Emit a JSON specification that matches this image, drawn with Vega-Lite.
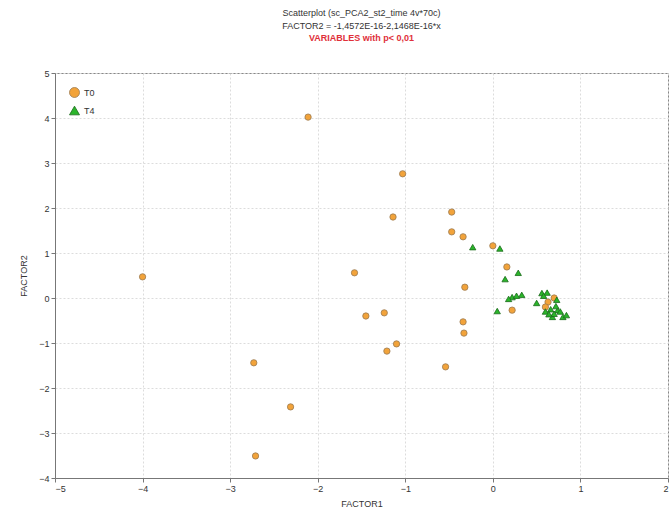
{
  "$schema": "https://vega.github.io/schema/vega-lite/v6.json",
  "width": 613,
  "height": 405,
  "autosize": {"type": "none"},
  "padding": {"left": 55, "top": 73, "right": 4, "bottom": 48},
  "background": "white",
  "config": {
    "font": "Liberation Sans",
    "view": {"stroke": "#888888", "strokeWidth": 1},
    "axis": {
      "labelFontSize": 9,
      "labelColor": "#333333",
      "titleFontSize": 9,
      "titleFontWeight": "normal",
      "titleColor": "#333333",
      "grid": true,
      "gridColor": "#dcdcdc",
      "gridDash": [2, 2],
      "domainColor": "#777777",
      "tickColor": "#777777",
      "tickSize": 4
    }
  },
  "title": {
    "text": ["Scatterplot (sc_PCA2_st2_time 4v*70c)", "FACTOR2 = -1,4572E-16-2,1468E-16*x"],
    "subtitle": "VARIABLES with p< 0,01",
    "fontSize": 9,
    "fontWeight": "normal",
    "color": "#333333",
    "subtitleFontSize": 9,
    "subtitleFontWeight": "bold",
    "subtitleColor": "#e0303a",
    "subtitlePadding": 3,
    "lineHeight": 13,
    "anchor": "middle",
    "offset": 26
  },
  "datasets": {
    "pts": [
      {"f1": -2.11, "f2": 4.02, "g": "T0"},
      {"f1": -4.0, "f2": 0.47, "g": "T0"},
      {"f1": -1.03, "f2": 2.76, "g": "T0"},
      {"f1": -1.14, "f2": 1.8, "g": "T0"},
      {"f1": -0.47, "f2": 1.91, "g": "T0"},
      {"f1": -0.47, "f2": 1.47, "g": "T0"},
      {"f1": -0.34, "f2": 1.36, "g": "T0"},
      {"f1": 0.0, "f2": 1.16, "g": "T0"},
      {"f1": -1.58, "f2": 0.56, "g": "T0"},
      {"f1": -0.32, "f2": 0.24, "g": "T0"},
      {"f1": -1.45, "f2": -0.4, "g": "T0"},
      {"f1": -1.24, "f2": -0.33, "g": "T0"},
      {"f1": -0.34, "f2": -0.53, "g": "T0"},
      {"f1": -0.33, "f2": -0.78, "g": "T0"},
      {"f1": -1.1, "f2": -1.02, "g": "T0"},
      {"f1": -1.21, "f2": -1.18, "g": "T0"},
      {"f1": -0.54, "f2": -1.53, "g": "T0"},
      {"f1": -2.73, "f2": -1.44, "g": "T0"},
      {"f1": -2.31, "f2": -2.42, "g": "T0"},
      {"f1": -2.71, "f2": -3.51, "g": "T0"},
      {"f1": 0.16, "f2": 0.69, "g": "T0"},
      {"f1": 0.22, "f2": -0.27, "g": "T0"},
      {"f1": 0.63, "f2": -0.09, "g": "T0"},
      {"f1": 0.6, "f2": -0.2, "g": "T0"},
      {"f1": 0.7, "f2": 0.0, "g": "T0"},
      {"f1": -0.23, "f2": 1.13, "g": "T4"},
      {"f1": 0.08, "f2": 1.1, "g": "T4"},
      {"f1": 0.29, "f2": 0.56, "g": "T4"},
      {"f1": 0.14, "f2": 0.42, "g": "T4"},
      {"f1": 0.22, "f2": 0.02, "g": "T4"},
      {"f1": 0.33, "f2": 0.07, "g": "T4"},
      {"f1": 0.27, "f2": 0.05, "g": "T4"},
      {"f1": 0.18, "f2": -0.02, "g": "T4"},
      {"f1": 0.05, "f2": -0.29, "g": "T4"},
      {"f1": 0.5, "f2": -0.11, "g": "T4"},
      {"f1": 0.56, "f2": 0.11, "g": "T4"},
      {"f1": 0.62, "f2": 0.12, "g": "T4"},
      {"f1": 0.73, "f2": -0.04, "g": "T4"},
      {"f1": 0.74, "f2": -0.27, "g": "T4"},
      {"f1": 0.8, "f2": -0.42, "g": "T4"},
      {"f1": 0.68, "f2": -0.42, "g": "T4"},
      {"f1": 0.66, "f2": -0.25, "g": "T4"},
      {"f1": 0.7, "f2": -0.35, "g": "T4"},
      {"f1": 0.77, "f2": -0.3, "g": "T4"},
      {"f1": 0.84, "f2": -0.38, "g": "T4"},
      {"f1": 0.6, "f2": -0.3, "g": "T4"},
      {"f1": 0.58, "f2": 0.05, "g": "T4"},
      {"f1": 0.72, "f2": -0.18, "g": "T4"},
      {"f1": 0.64, "f2": -0.36, "g": "T4"}
    ]
  },
  "layer": [
    {
      "data": {"name": "pts"},
      "mark": {"type": "point", "filled": true, "opacity": 1, "strokeWidth": 0.8},
      "encoding": {
        "x": {
          "field": "f1", "type": "quantitative", "title": "FACTOR1",
          "scale": {"domain": [-5, 2], "nice": false, "zero": false},
          "axis": {"values": [-5, -4, -3, -2, -1, 0, 1, 2], "format": "d", "titlePadding": 6, "grid": true}
        },
        "y": {
          "field": "f2", "type": "quantitative", "title": "FACTOR2",
          "scale": {"domain": [-4, 5], "nice": false, "zero": false},
          "axis": {"values": [-4, -3, -2, -1, 0, 1, 2, 3, 4, 5], "format": "d", "titlePadding": 10, "grid": true}
        },
        "color": {
          "field": "g", "type": "nominal",
          "scale": {"domain": ["T0", "T4"], "range": ["#f2a33a", "#2ab52a"]},
          "legend": {
            "title": null, "orient": "top-left", "offset": 14,
            "labelFontSize": 9, "labelColor": "#333333", "symbolStrokeWidth": 0.8,
            "rowPadding": 4, "fillColor": "white"
          }
        },
        "shape": {
          "field": "g", "type": "nominal",
          "scale": {"domain": ["T0", "T4"], "range": ["circle", "triangle-up"]}
        },
        "size": {"value": 40},
        "stroke": {
          "field": "g", "type": "nominal",
          "scale": {"domain": ["T0", "T4"], "range": ["#9a7a50", "#1a6a1a"]},
          "legend": null
        }
      }
    },
    {
      "mark": {"type": "rule", "color": "#e8506a", "strokeWidth": 1},
      "encoding": {"y": {"datum": 0, "type": "quantitative"}}
    }
  ]
}
